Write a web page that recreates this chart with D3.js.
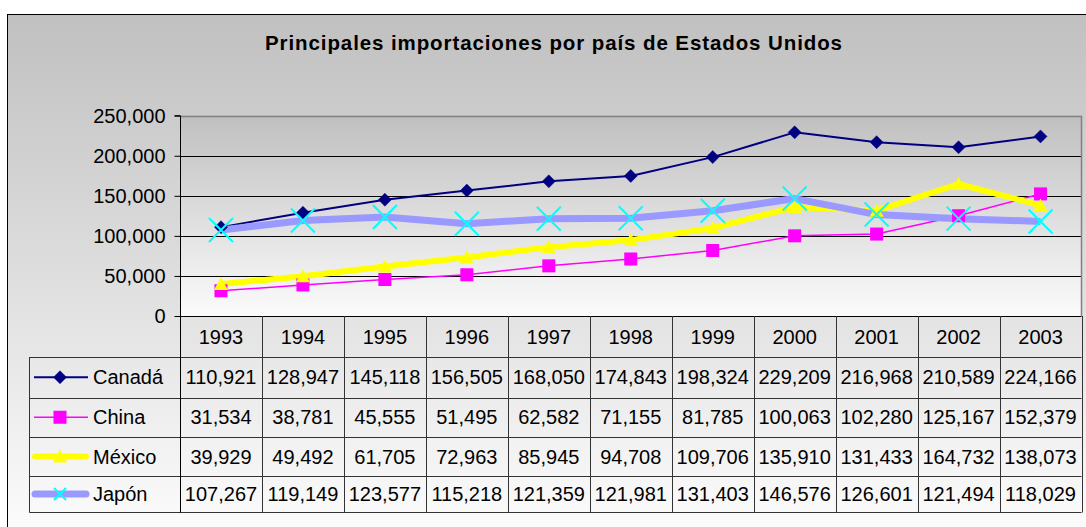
<!DOCTYPE html>
<html><head><meta charset="utf-8">
<script src="https://cdn.jsdelivr.net/npm/d3@7/dist/d3.min.js"></script>
<style>html,body{margin:0;padding:0;background:#fff;overflow:hidden}svg{display:block;font-family:"Liberation Sans",Arial,sans-serif}</style>
</head><body><svg id="c" width="1086" height="527"></svg>
<script>
const title = "Principales importaciones por país de Estados Unidos";
const years = ["1993","1994","1995","1996","1997","1998","1999","2000","2001","2002","2003"];
const seriesNames = ["Canadá","China","México","Japón"];
const canada = [110921,128947,145118,156505,168050,174843,198324,229209,216968,210589,224166];
const china  = [31534,38781,45555,51495,62582,71155,81785,100063,102280,125167,152379];
const mexico = [39929,49492,61705,72963,85945,94708,109706,135910,131433,164732,138073];
const japon  = [107267,119149,123577,115218,121359,121981,131403,146576,126601,121494,118029];
const yTicks = [0,50000,100000,150000,200000,250000];

(function(){
const styles = [
  {color:"#000080", width:2, marker:"diamond"},
  {color:"#FF00FF", width:1.5, marker:"square"},
  {color:"#FFFF00", width:6, marker:"triangle"},
  {color:"#9999FF", width:7, marker:"x", mcolor:"#00FFFF"}
];
const data = [canada, china, mexico, japon];

const svg = d3.select("#c");
const defs = svg.append("defs");
const g1 = defs.append("linearGradient").attr("id","bg").attr("gradientUnits","userSpaceOnUse")
  .attr("x1",0).attr("x2",0).attr("y1",14).attr("y2",560);
g1.append("stop").attr("offset",0).attr("stop-color","#c0c0c0");
g1.append("stop").attr("offset",1).attr("stop-color","#ffffff");
const g2 = defs.append("linearGradient").attr("id","pbg").attr("gradientUnits","userSpaceOnUse")
  .attr("x1",0).attr("x2",0).attr("y1",116).attr("y2",316);
g2.append("stop").attr("offset",0).attr("stop-color","#c0c0c0");
g2.append("stop").attr("offset",1).attr("stop-color","#fbfbfb");

svg.append("rect").attr("x",7.5).attr("y",14.5).attr("width",1100).attr("height",540)
  .attr("fill","url(#bg)").attr("stroke","#000").attr("stroke-width",1);

const pLeft = 180, pRight = 1081.5, pTop = 115.7, pBottom = 316;
const x = d3.scaleBand().domain(years).range([pLeft, pRight]).paddingInner(0).paddingOuter(0);
const y = d3.scaleLinear().domain([0,250000]).range([pBottom, pTop]);
const cx = d => x(d) + x.bandwidth()/2;

svg.append("rect").attr("x",pLeft).attr("y",pTop).attr("width",pRight-pLeft).attr("height",pBottom-pTop)
  .attr("fill","url(#pbg)");
svg.append("g").selectAll("line").data(yTicks.filter(t=>t>0 && t<250000)).join("line")
  .attr("x1",pLeft).attr("x2",pRight).attr("y1",d=>Math.round(y(d))+0.5).attr("y2",d=>Math.round(y(d))+0.5)
  .attr("stroke","#000").attr("stroke-width",1);
svg.append("path").attr("d",`M${pLeft},${Math.round(pTop)+0.5}H${pRight}V${pBottom}`)
  .attr("fill","none").attr("stroke","#808080").attr("stroke-width",1.5);

const yAxis = d3.axisLeft(y).tickValues(yTicks).tickFormat(d3.format(",")).tickSize(6).tickPadding(9);
const ya = svg.append("g").attr("transform",`translate(${pLeft+0.5},0)`).call(yAxis);
ya.select(".domain").attr("stroke","#000").attr("d",`M-6,${pTop}H0V${pBottom}`);
ya.selectAll(".tick line").attr("stroke","#000");
ya.selectAll(".tick text").attr("font-size",20).attr("fill","#000").attr("font-family","Liberation Sans, Arial, sans-serif");

const rowY = [316, 357, 397.5, 437, 476, 512];
const tg = svg.append("g").attr("stroke","#333").attr("stroke-width",1);
tg.append("line").attr("x1",pLeft).attr("x2",pRight).attr("y1",316.5).attr("y2",316.5).attr("stroke","#000");
rowY.slice(1).forEach(yy=>{
  tg.append("line").attr("x1",29.5).attr("x2",pRight).attr("y1",Math.round(yy)+0.5).attr("y2",Math.round(yy)+0.5);
});
tg.append("line").attr("x1",29.5).attr("x2",29.5).attr("y1",357).attr("y2",512.5);
[pLeft].concat(years.map(d=>x(d)+x.bandwidth())).forEach(xx=>{
  tg.append("line").attr("x1",Math.round(xx)+0.5).attr("x2",Math.round(xx)+0.5).attr("y1",316).attr("y2",512.5)
    .attr("stroke", xx===pLeft ? "#000" : "#333");
});
svg.append("g").selectAll("text").data(years).join("text")
  .attr("x",d=>cx(d)).attr("y",(rowY[0]+rowY[1])/2).attr("dy","0.36em")
  .attr("text-anchor","middle").attr("font-size",20).attr("fill","#000").text(d=>d);
const fmt = d3.format(",");
data.forEach((arr,i)=>{
  const yc = (rowY[i+1]+rowY[i+2])/2;
  svg.append("g").selectAll("text").data(arr).join("text")
    .attr("x",(d,j)=>cx(years[j])).attr("y",yc).attr("dy","0.36em")
    .attr("text-anchor","middle").attr("font-size",20).attr("fill","#000").text(d=>fmt(d));
});

function marker(sel, type, s){
  const c = s.mcolor || s.color;
  if(type==="diamond"){
    sel.append("path").attr("d","M0,-6.5L6.5,0L0,6.5L-6.5,0Z").attr("fill",c).attr("stroke",c).attr("stroke-width",0.5);
  } else if(type==="square"){
    sel.append("rect").attr("x",-6.5).attr("y",-6.5).attr("width",13).attr("height",13).attr("fill",c);
  } else if(type==="triangle"){
    sel.append("path").attr("d","M0,-7L7,6L-7,6Z").attr("fill",c);
  } else {
    sel.append("path").attr("d","M-12,-12L12,12M-12,12L12,-12").attr("stroke",c).attr("stroke-width",2).attr("fill","none");
  }
}

const line = d3.line().x((d,j)=>cx(years[j])).y(d=>y(d));
data.forEach((arr,i)=>{
  svg.append("path").datum(arr).attr("d",line).attr("fill","none")
    .attr("stroke",styles[i].color).attr("stroke-width",styles[i].width).attr("stroke-linejoin","round");
});
data.forEach((arr,i)=>{
  svg.append("g").selectAll("g").data(arr).join("g")
    .attr("transform",(d,j)=>`translate(${cx(years[j])},${y(d)})`)
    .each(function(){ marker(d3.select(this), styles[i].marker, styles[i]); });
});

seriesNames.forEach((name,i)=>{
  const yc = (rowY[i+1]+rowY[i+2])/2;
  const s = styles[i];
  const thick = s.width>3;
  svg.append("line").attr("x1",thick?35:34).attr("x2",thick?86:88).attr("y1",yc).attr("y2",yc)
    .attr("stroke",s.color).attr("stroke-width",s.width).attr("stroke-linecap",thick?"round":"butt");
  const m = svg.append("g").attr("transform",`translate(60,${yc})`);
  if(s.marker==="x"){
    m.append("path").attr("d","M-6,-6L6,6M-6,6L6,-6").attr("stroke",s.mcolor).attr("stroke-width",2);
  } else marker(m, s.marker, s);
  svg.append("text").attr("x",93).attr("y",yc).attr("dy","0.36em").attr("font-size",20).attr("fill","#000").text(name);
});

svg.append("text").attr("x",553.5).attr("y",50).attr("text-anchor","middle")
  .attr("font-size",20.5).attr("font-weight","bold").attr("fill","#000")
  .attr("textLength",577).attr("lengthAdjust","spacing").text(title);
})();
</script></body></html>
